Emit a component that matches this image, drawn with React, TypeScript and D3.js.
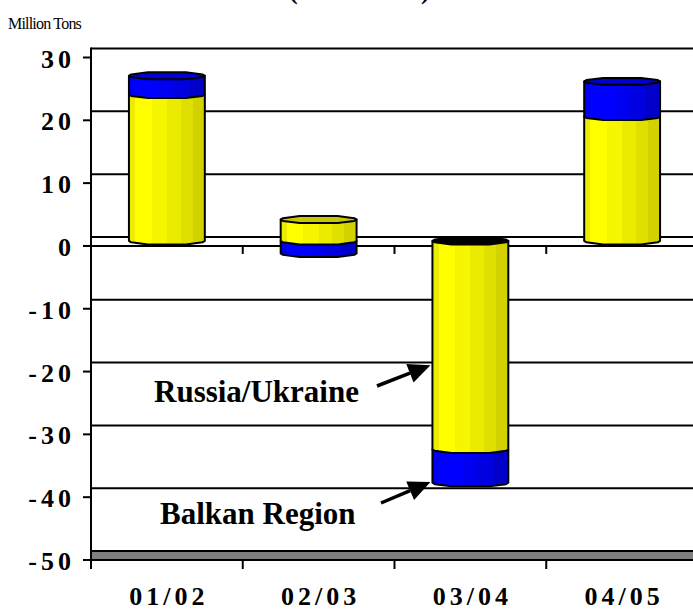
import * as d3 from 'd3';

const categories = ['01/02', '02/03', '03/04', '04/05'];
const russiaUkraine = [23.3, 3.4, -33.2, 19.8];
const balkanRegion = [3.0, -2.0, -5.3, 5.6];
const yTicks = [30, 20, 10, 0, -10, -20, -30, -40, -50];
const seriesKeys = ['russia', 'balkan'];

const W = 693;
const H = 610;
const D = 9; // depth of the back wall
const OFF = 5; // bars sit half way into the depth
const RY = 4; // vertical radius of the cylinder caps
const capAngles = [0, 20, 60, 120, 160, 180, 200, 240, 300, 340];

const bodyFill = { russia: 'url(#gYellow)', balkan: 'url(#gBlue)' };
const capFill = { russia: '#c8c800', balkan: '#0000d0' };

const App = () => {
  const y = d3.scaleLinear().domain([-50, 30]).range([560, 57.5]);
  const x = d3.scaleBand()
    .domain(categories)
    .range([91, 698])
    .paddingInner(0.5)
    .paddingOuter(0.25);
  const bw = x.bandwidth();
  const step = x.step();
  const left = 91;

  const table = categories.map((c, i) => ({ cat: c, russia: russiaUkraine[i], balkan: balkanRegion[i] }));
  const stacked = d3.stack().keys(seriesKeys).offset(d3.stackOffsetDiverging)(table);

  const ring = (cx, cy, rx, angles) =>
    angles.map(a => [cx + rx * Math.cos((a * Math.PI) / 180), cy + RY * Math.sin((a * Math.PI) / 180)]);

  const bars = categories.map((c, i) => {
    const cx = x(c) + bw / 2;
    const rx = bw / 2;
    const segs = stacked
      .map(s => ({ key: s.key, lo: Math.min(s[i][0], s[i][1]), hi: Math.max(s[i][0], s[i][1]) }))
      .filter(s => s.hi - s.lo > 0)
      .sort((a, b) => a.lo - b.lo);
    const top = segs[segs.length - 1];
    return { c, cx, rx, segs, top };
  });

  const boundaries = categories.map(c => x(c) + bw / 2 - step / 2);
  const gridVals = yTicks.filter(v => v < 30 && v > -50);

  const line = d3.line();

  const annotations = [
    { label: 'Russia/Ukraine', tx: 154, ty: 402, tail: [377, 386], tipVal: -19, cat: '03/04' },
    { label: 'Balkan Region', tx: 160, ty: 524, tail: [381, 503], tipVal: -37.6, cat: '03/04' },
  ];

  return (
    <svg width={W} height={H} style={{ position: 'absolute', left: 0, top: 0, background: '#fff' }}
      fontFamily="'Liberation Serif', 'Times New Roman', serif">
      <defs>
        <linearGradient id="gYellow" x1="0" x2="1" y1="0" y2="0">
          <stop offset="0" stopColor="#ecec00" />
          <stop offset="0.08" stopColor="#ecec00" />
          <stop offset="0.08" stopColor="#ffff00" />
          <stop offset="0.3" stopColor="#ffff00" />
          <stop offset="0.3" stopColor="#f6f600" />
          <stop offset="0.5" stopColor="#f6f600" />
          <stop offset="0.5" stopColor="#ebeb00" />
          <stop offset="0.68" stopColor="#ebeb00" />
          <stop offset="0.68" stopColor="#e0e000" />
          <stop offset="0.84" stopColor="#e0e000" />
          <stop offset="0.84" stopColor="#d2d200" />
          <stop offset="1" stopColor="#d2d200" />
        </linearGradient>
        <linearGradient id="gBlue" x1="0" x2="1" y1="0" y2="0">
          <stop offset="0" stopColor="#0000ee" />
          <stop offset="0.08" stopColor="#0000ee" />
          <stop offset="0.08" stopColor="#0000ff" />
          <stop offset="0.4" stopColor="#0000ff" />
          <stop offset="0.4" stopColor="#0000f0" />
          <stop offset="0.6" stopColor="#0000f0" />
          <stop offset="0.6" stopColor="#0000e0" />
          <stop offset="0.8" stopColor="#0000e0" />
          <stop offset="0.8" stopColor="#0000c8" />
          <stop offset="1" stopColor="#0000c8" />
        </linearGradient>
      </defs>

      {/* title is cut off at the top edge in the original */}
      <text x={289} y={-1} fontSize={26} fontWeight="bold">(</text>
      <text x={421} y={-1} fontSize={26} fontWeight="bold">)</text>

      <text x={8} y={29} fontSize={16} letterSpacing={-0.8}>Million Tons</text>

      {/* back wall gridlines */}
      {gridVals.map(v => (
        <line key={'g' + v} x1={left} x2={W} y1={y(v) - D} y2={y(v) - D} stroke="#000" strokeWidth={2} />
      ))}
      <line x1={left} x2={W} y1={y(30) - D} y2={y(30) - D} stroke="#000" strokeWidth={2} />

      {/* floor */}
      <rect x={left} y={y(-50) - D} width={W - left} height={D} fill="#808080" />
      <line x1={left} x2={W} y1={y(-50) - D} y2={y(-50) - D} stroke="#000" strokeWidth={2} />
      <line x1={left} x2={W} y1={y(-50)} y2={y(-50)} stroke="#000" strokeWidth={2} />

      {/* front category axis at zero */}
      <line x1={83} x2={W} y1={y(0)} y2={y(0)} stroke="#000" strokeWidth={2} />
      {boundaries.slice(1).map(b => (
        <line key={'zt' + b} x1={b} x2={b} y1={y(0)} y2={y(0) + 8} stroke="#000" strokeWidth={2} />
      ))}
      {boundaries.map(b => (
        <line key={'bt' + b} x1={b} x2={b} y1={y(-50)} y2={y(-50) + 9} stroke="#000" strokeWidth={2} />
      ))}

      {/* value axis */}
      <line x1={left} x2={left} y1={y(30) - D - 1} y2={y(-50) + 9} stroke="#000" strokeWidth={2} />
      {yTicks.map(v => (
        <g key={'t' + v}>
          <line x1={83} x2={left} y1={y(v)} y2={y(v)} stroke="#000" strokeWidth={2} />
          <text x={75} y={y(v) + 10} fontSize={26} fontWeight="bold" textAnchor="end" letterSpacing={4}>
            {v}
          </text>
        </g>
      ))}

      {/* cylinders */}
      {bars.map(b => (
        <g key={b.c}>
          {b.segs.map(s => {
            const yT = y(s.hi) - OFF;
            const yB = y(s.lo) - OFF;
            const front = ring(b.cx, yB, b.rx, [180, 160, 120, 60, 20, 0]);
            const pts = [[b.cx - b.rx, yT], ...front, [b.cx + b.rx, yT]];
            return (
              <path key={s.key} d={line(pts) + 'Z'} fill={bodyFill[s.key]} stroke="#000" strokeWidth={2}
                strokeLinejoin="round" />
            );
          })}
          <path
            d={line(ring(b.cx, y(b.top.hi) - OFF, b.rx, capAngles)) + 'Z'}
            fill={b.top.hi <= 0 ? '#000' : capFill[b.top.key]}
            stroke="#000" strokeWidth={2} strokeLinejoin="round"
          />
        </g>
      ))}

      {/* category labels */}
      {categories.map(c => (
        <text key={'l' + c} x={x(c) + bw / 2 + 2} y={605} fontSize={26} fontWeight="bold" textAnchor="middle"
          letterSpacing={4}>
          {c}
        </text>
      ))}

      {/* annotations */}
      {annotations.map(a => {
        const tip = [x(a.cat) - 2, y(a.tipVal)];
        const ang = Math.atan2(tip[1] - a.tail[1], tip[0] - a.tail[0]);
        const hl = 22;
        const hw = 10;
        const bx = tip[0] - hl * Math.cos(ang);
        const by = tip[1] - hl * Math.sin(ang);
        const head = [
          tip,
          [bx + hw * Math.sin(ang), by - hw * Math.cos(ang)],
          [bx - hw * Math.sin(ang), by + hw * Math.cos(ang)],
        ];
        return (
          <g key={a.label}>
            <text x={a.tx} y={a.ty} fontSize={31} fontWeight="bold">{a.label}</text>
            <line x1={a.tail[0]} y1={a.tail[1]} x2={bx} y2={by} stroke="#000" strokeWidth={3.5} />
            <path d={line(head) + 'Z'} fill="#000" />
          </g>
        );
      })}
    </svg>
  );
};

export default App;
